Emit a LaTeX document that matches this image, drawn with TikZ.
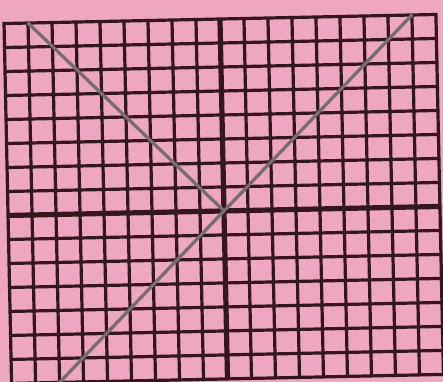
\documentclass[tikz,border=0pt]{standalone}
\usepackage{tikz}
\definecolor{paperPink}{HTML}{EDA7C1}
\definecolor{gridInk}{HTML}{36161E}
\definecolor{lineGray}{HTML}{786C70}
\tikzset{
  gridline/.style={
    draw=gridInk,
    line width=3.2pt,
    line cap=rect
  },
  axisline/.style={
    draw=gridInk,
    line width=5.2pt
  },
  graphline/.style={
    draw=lineGray,
    line width=3.3pt,
    line cap=round
  }
}

\begin{document}
\begin{tikzpicture}[x=24pt,y=24pt]
  \fill[paperPink] (-9.333,-7.125) rectangle (9.125,8.79);
  \useasboundingbox (-9.333,-7.125) rectangle (9.125,8.79);
  \begin{scope}[rotate=1.2]
    \draw[gridline] (-9,-7) grid[step=24pt] (9,8);
    \draw[axisline] (-9,0) -- (9,0);
    \draw[axisline] (0,-7) -- (0,8);
    \coordinate (origin) at (0,0);
    \coordinate (leftTop) at (-8,8);
    \coordinate (rightTop) at (8,8);
    \coordinate (leftBottom) at (-7,-7);
    \draw[graphline] (leftTop) -- (origin);
    \draw[graphline] (leftBottom) -- (rightTop);
  \end{scope}
\end{tikzpicture}
\end{document}
